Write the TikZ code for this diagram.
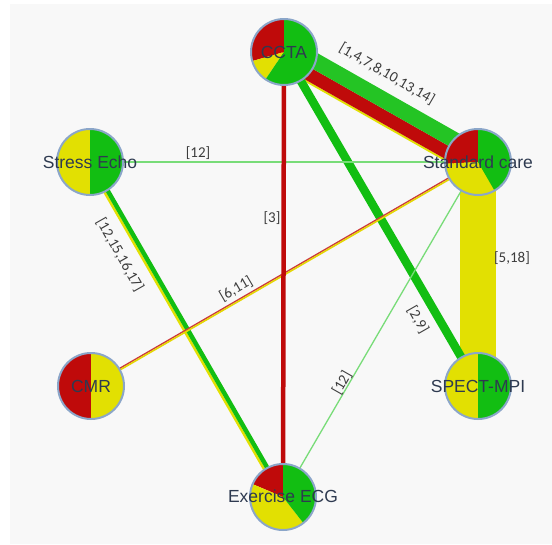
\documentclass[tikz,border=0pt]{standalone}
\usepackage{fontspec}
\setmainfont{Liberation Sans}
\newfontfamily\edgefont{Carlito}
\usetikzlibrary{calc}
\definecolor{cred}{HTML}{BF0A0A}
\definecolor{cgrn}{HTML}{12BE12}
\definecolor{bandgrn}{HTML}{24C424}
\definecolor{cyel}{HTML}{E2E002}
\definecolor{ring}{HTML}{8BA6C9}
\definecolor{thingrn}{HTML}{78DC78}
\definecolor{bggray}{HTML}{F8F8F8}
\definecolor{ntext}{HTML}{2E3A50}
\definecolor{etext}{HTML}{3C3C3C}
\pgfdeclarelayer{back}
\pgfdeclarelayer{edges}
\pgfsetlayers{back,edges,main}
\newcommand\pieslice[3]{\fill[#3, x=1pt, y=1pt] (path picture bounding box.center) -- ++(#1:40) arc[start angle=#1, end angle=#2, radius=40] -- cycle;}
\newcommand\stripe[5]{\draw[line width=#4, #5] ($(#1.center)!#3!90:(#2.center)$) -- ($(#2.center)!#3!-90:(#1.center)$);}
\tikzset{
  pienode/.style={circle, minimum size=66pt, inner sep=0pt, draw=ring, line width=2pt, path picture={#1}},
  nlabel/.style={font=\fontsize{17.5}{18}\selectfont, text=ntext, inner sep=0pt},
  elabel/.style={font=\edgefont\fontsize{15}{16}\selectfont, text=etext, inner sep=1pt},
  thinedge/.style={draw=thingrn, line width=1.3pt},
}
\begin{document}
\begin{tikzpicture}[x=1pt, y=-1pt]
\useasboundingbox (0,0) rectangle (552,544);
\begin{pgfonlayer}{back}
  \fill[bggray] (10,4) rectangle (552,544);
\end{pgfonlayer}

% nodes
\node[pienode={\pieslice{90}{196}{cred}\pieslice{196}{236}{cyel}\pieslice{236}{450}{cgrn}}] (ccta) at (284,52) {};
\node[pienode={\pieslice{90}{270}{cyel}\pieslice{270}{450}{cgrn}}] (secho) at (90,162) {};
\node[pienode={\pieslice{90}{183}{cred}\pieslice{183}{300}{cyel}\pieslice{300}{450}{cgrn}}] (std) at (478,162) {};
\node[pienode={\pieslice{90}{270}{cred}\pieslice{270}{450}{cyel}}] (cmr) at (91,386) {};
\node[pienode={\pieslice{90}{270}{cyel}\pieslice{270}{450}{cgrn}}] (spect) at (478,386) {};
\node[pienode={\pieslice{90}{157}{cred}\pieslice{157}{308}{cyel}\pieslice{308}{450}{cgrn}}] (ecg) at (283,497) {};

\node[nlabel] (ccta-t) at (ccta.center) {CCTA};
\node[nlabel] (secho-t) at (secho.center) {Stress Echo};
\node[nlabel] (std-t) at (std.center) {Standard care};
\node[nlabel] (cmr-t) at (cmr.center) {CMR};
\node[nlabel] (spect-t) at (spect.center) {SPECT-MPI};
\node[nlabel] (ecg-t) at ([yshift=1pt]ecg.center) {Exercise ECG};

% edges
\begin{pgfonlayer}{edges}
  \draw[cyel, line width=36pt] (std.center) -- (spect.center);
  \stripe{ccta}{std}{-14.5pt}{2pt}{cyel}
  \stripe{ccta}{std}{-7pt}{13pt}{cred}
  \stripe{ccta}{std}{7.5pt}{16pt}{bandgrn}
  \draw[cgrn, line width=8.5pt] (ccta.center) -- (spect.center);
  \draw[thinedge] (secho.center) -- (std.center);
  \draw[thinedge] (ecg.center) -- (std.center);
  \stripe{secho}{ecg}{-2.5pt}{2.5pt}{cyel}
  \stripe{secho}{ecg}{1pt}{4.5pt}{cgrn}
  \stripe{cmr}{std}{0.9pt}{1.4pt}{cred!80}
  \stripe{cmr}{std}{-0.6pt}{1.6pt}{cyel!90!orange}
  \draw[cred, line width=4.5pt] (ccta.center) -- (ecg.center);
\end{pgfonlayer}

% edge labels
\node[elabel, rotate=-30.2] (l-ccta-std) at (387,74) {[1,4,7,8,10,13,14]};
\node[elabel] (l-secho-std) at (198,153) {[12]};
\node[elabel, rotate=-60.4] (l-secho-ecg) at (120,255) {[12,15,16,17]};
\node[elabel, rotate=30.3] (l-cmr-std) at (236,289) {[6,11]};
\node[elabel] (l-ccta-ecg) at (272,218) {[3]};
\node[elabel, rotate=-60.3] (l-ccta-spect) at (418,320) {[2,9]};
\node[elabel] (l-std-spect) at (512,258) {[5,18]};
\node[elabel, rotate=60.4] (l-ecg-std) at (342,383) {[12]};
\end{tikzpicture}
\end{document}
